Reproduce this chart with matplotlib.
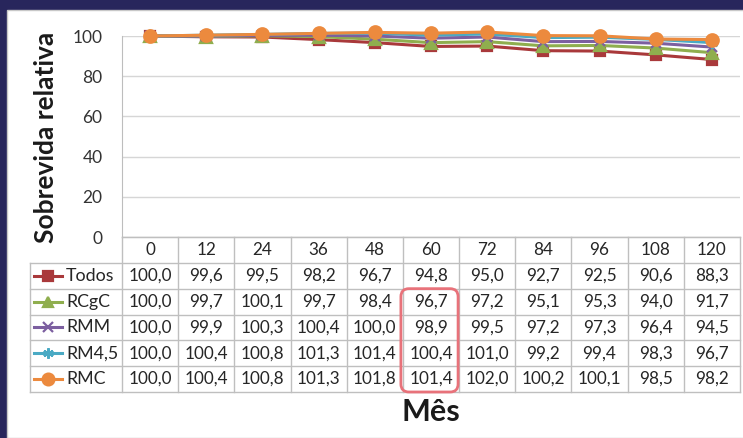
import matplotlib
matplotlib.use("Agg")
import matplotlib.pyplot as plt
from matplotlib.patches import Rectangle, FancyBboxPatch
from matplotlib.lines import Line2D
from matplotlib.transforms import IdentityTransform

# relative survival (%) by month of follow-up
months = [0, 12, 24, 36, 48, 60, 72, 84, 96, 108, 120]
todos = [100.0, 99.6, 99.5, 98.2, 96.7, 94.8, 95.0, 92.7, 92.5, 90.6, 88.3]
rcgc = [100.0, 99.7, 100.1, 99.7, 98.4, 96.7, 97.2, 95.1, 95.3, 94.0, 91.7]
rmm = [100.0, 99.9, 100.3, 100.4, 100.0, 98.9, 99.5, 97.2, 97.3, 96.4, 94.5]
rm45 = [100.0, 100.4, 100.8, 101.3, 101.4, 100.4, 101.0, 99.2, 99.4, 98.3, 96.7]
rmc = [100.0, 100.4, 100.8, 101.3, 101.8, 101.4, 102.0, 100.2, 100.1, 98.5, 98.2]
series_names = ["Todos", "RCgC", "RMM", "RM4,5", "RMC"]
yticks = [0, 20, 40, 60, 80, 100]
highlight_month = 60
highlight_rows = ["RCgC", "RM4,5", "RMM", "RMC"]

series = [todos, rcgc, rmm, rm45, rmc]
colors = ["#a9393b", "#8fae4e", "#7c5fa0", "#4aaac4", "#ec8a3e"]
markers = ["s", "^", "x", (6, 2, 0), "o"]
sizes = [7.5, 8, 7, 8, 9]

W, H = 743, 438
plt.rcParams["font.family"] = ["Lato", "DejaVu Sans"]
fig = plt.figure(figsize=(W / 100, H / 100), dpi=100)
fig.patch.set_facecolor("#28265c")

# white slide panel
fig.add_artist(Rectangle((7 / W, 0), 1, (H - 10) / H, transform=fig.transFigure,
                         facecolor="white", edgecolor="#c8c8c8", lw=1, zorder=-5))

# line chart area
ax = fig.add_axes([122 / W, 1 - 237 / H, 618 / W, 201 / H])
ax.set_facecolor("none")
x = list(range(len(months)))
for vals, c, m, s in zip(series, colors, markers, sizes):
    ax.plot(x, vals, color=c, lw=2.2, marker=m, markersize=s,
            markeredgecolor=c, markeredgewidth=1.6, clip_on=False)
ax.set_xlim(-0.5, len(months) - 0.5)
ax.set_ylim(0, 100)
ax.set_yticks(yticks)
ax.set_yticklabels([str(v) for v in yticks], fontsize=12.5, color="#333333")
ax.set_xticks([])
ax.tick_params(axis="y", length=0, pad=14)
ax.grid(axis="y", color="#d6d6d6", lw=1)
ax.set_axisbelow(True)
for side in ["top", "right"]:
    ax.spines[side].set_visible(False)
for side in ["left", "bottom"]:
    ax.spines[side].set_color("#bdbdbd")

fig.text(46 / W, 1 - 137 / H, "Sobrevida relativa", rotation=90, ha="center",
         va="center", fontsize=19, fontweight="bold", color="#1a1a1a")

# data table below the chart
unit = 618 / len(months)
left = -0.5 - 92 / unit
right = len(months) - 0.5
tax = fig.add_axes([30 / W, 1 - 392 / H, 710 / W, 155 / H])
tax.set_xlim(left, right)
tax.set_ylim(len(series) + 1, 0)
tax.axis("off")

grid_kw = dict(color="#bfbfbf", lw=1, clip_on=False)
nrows = len(series) + 1
for i in range(len(months) + 1):
    tax.plot([i - 0.5, i - 0.5], [0, nrows], **grid_kw)
tax.plot([left, left], [1, nrows], **grid_kw)
tax.plot([-0.5, right], [0, 0], **grid_kw)
for r in range(1, nrows + 1):
    tax.plot([left, right], [r, r], **grid_kw)

txt_kw = dict(ha="center", va="center", fontsize=12.3, color="#262626")
for i, mth in enumerate(months):
    tax.text(i, 0.5, str(mth), **txt_kw)
for r, (name, vals, c, m, s) in enumerate(zip(series_names, series, colors, markers, sizes), start=1):
    for i, v in enumerate(vals):
        tax.text(i, r + 0.5, f"{v:.1f}".replace(".", ","), **txt_kw)
    # legend key in the row header
    k0 = left + 4 / unit
    k1 = left + 32 / unit
    tax.add_line(Line2D([k0, k1], [r + 0.5, r + 0.5], color=c, lw=2.2, clip_on=False))
    tax.plot([(k0 + k1) / 2], [r + 0.5], marker=m, markersize=s - 0.5, color=c,
             markeredgecolor=c, markeredgewidth=1.6, clip_on=False)
    tax.text(left + 36 / unit, r + 0.5, name, ha="left", va="center",
             fontsize=12.8, color="#262626")

# rounded highlight around the 60-month column
col = months.index(highlight_month)
rows = [series_names.index(n) + 1 for n in highlight_rows]
(x0, y0) = tax.transData.transform((col - 0.5, max(rows) + 1))
(x1, y1) = tax.transData.transform((col + 0.5, min(rows)))
fig.add_artist(FancyBboxPatch((x0 - 2, y0), x1 - x0 + 1, y1 - y0,
                              boxstyle="round,pad=0,rounding_size=8",
                              transform=IdentityTransform(), fill=False,
                              edgecolor="#e8727a", lw=2))

fig.text(431 / W, 1 - 412 / H, "Mês", ha="center", va="center", fontsize=22,
         fontweight="bold", color="#1a1a1a")

fig.savefig("out.png", dpi=100)
